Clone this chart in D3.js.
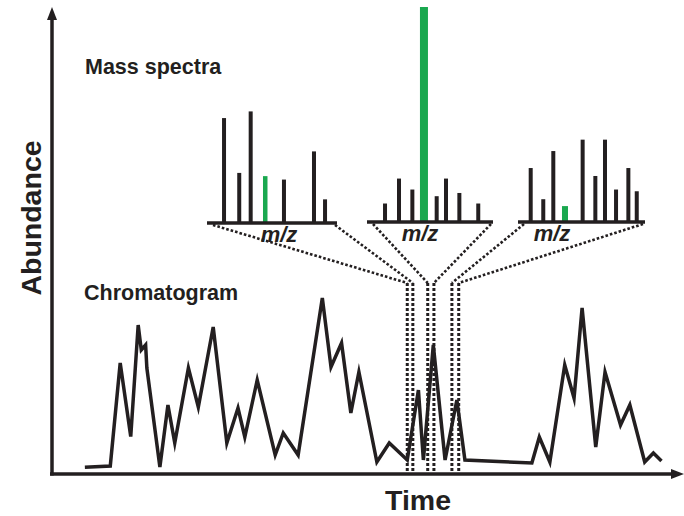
<!DOCTYPE html>
<html>
<head>
<meta charset="utf-8">
<script src="https://cdn.jsdelivr.net/npm/d3@7"></script>
<style>
body { margin: 0; background: #fff; }
text { font-family: "Liberation Sans", Arial, sans-serif; font-weight: bold; fill: #231f20; }
</style>
</head>
<body>
<svg id="chart" width="684" height="516"></svg>
<script>
// chromatogram (time 0-100, abundance 0-100)
const time = [5.3, 9.4, 11.0, 12.7, 13.9, 14.4, 15.1, 15.3, 17.4, 18.7, 19.8, 22.0, 23.6, 26.0, 28.2,
    30.0, 31.1, 33.1, 36.0, 37.3, 39.7, 43.6, 45.0, 46.7, 48.2, 49.5, 52.4, 54.4, 57.3, 59.1, 59.9,
    61.5, 63.4, 65.3, 66.6, 77.4, 78.6, 80.3, 82.7, 84.2, 85.5, 87.7, 89.2, 91.7, 93.2, 95.6, 97.0, 98.3];
const abundance = [3.4, 4, 55.5, 18.7, 74.5, 62, 64.5, 53, 3.5, 34.5, 15.5, 53, 33.5, 73.5, 15.5,
    33, 18.5, 47, 9.5, 20.5, 9.5, 88, 53.5, 65.5, 30.5, 51, 6, 15.5, 7, 42, 7,
    64.5, 7, 37, 7, 5.5, 18.5, 6, 54.5, 38, 83, 13.5, 51, 24.5, 34.5, 6, 10.5, 6.5];

// scans picked out of the chromatogram (start / end time)
const scanWindows = [[57.3, 58.2], [60.6, 61.6], [64.5, 65.6]];

// mass spectra (m/z 0-100, intensity 0-100), one per scan
const spectrumMz = [
    [13.1, 24.8, 33.6, 44.8, 59.2, 82.3, 90.8],
    [14.3, 25.4, 36.0, 45.2, 55.3, 62.7, 73.3, 88.3],
    [10.0, 19.9, 27.8, 37.0, 50.9, 60.9, 68.5, 77.2, 86.9, 93.5]
];
const spectrumIntensity = [
    [48.8, 23.3, 51.9, 21.8, 20.2, 33.3, 11.0],
    [8.6, 20.2, 15.1, 100, 12.0, 20.2, 13.5, 8.6],
    [25.1, 10.6, 33.0, 7.4, 38.3, 21.4, 38.3, 15.1, 25.1, 14.3]
];
const highlighted = [3, 3, 3];   // index of the ion shown in green

const ink = "#231f20";
const green = "#1aa84f";

const svg = d3.select("#chart");

const x = d3.scaleLinear().domain([0, 100]).range([52, 672]);
const y = d3.scaleLinear().domain([0, 100]).range([474, 274]);

// inset boxes for the spectra
const insets = [
    { x0: 207, x1: 337, base: 223, label: 279, gw: 4.5 },
    { x0: 367, x1: 493, base: 222, label: 420, gw: 8 },
    { x0: 518, x1: 645, base: 222, label: 552, gw: 6 }
];
const h = d3.scaleLinear().domain([0, 100]).range([0, 215]);

const winTop = 283, winBottom = 472;

// connectors from each spectrum down to its scan window
insets.forEach((b, i) => {
    const w = scanWindows[i];
    [[b.x0 + 6, w[0]], [b.x1 - 2, w[1]]].forEach(([sx, t]) => {
        svg.append("line")
            .attr("x1", sx).attr("y1", b.base + 2)
            .attr("x2", x(t)).attr("y2", winTop)
            .attr("stroke", ink).attr("stroke-width", 2.6)
            .attr("stroke-dasharray", "2.6,2");
    });
});

svg.selectAll(".win")
    .data(scanWindows.flat())
    .enter().append("line")
    .attr("class", "win")
    .attr("x1", d => x(d)).attr("x2", d => x(d))
    .attr("y1", winTop).attr("y2", winBottom)
    .attr("stroke", ink).attr("stroke-width", 3)
    .attr("stroke-dasharray", "3,2");

// chromatogram
const line = d3.line()
    .x(i => x(time[i]))
    .y(i => y(abundance[i]));

svg.append("path")
    .attr("d", line(d3.range(time.length)))
    .attr("fill", "none")
    .attr("stroke", ink)
    .attr("stroke-width", 3.5)
    .attr("stroke-linejoin", "miter")
    .attr("stroke-miterlimit", 6);

// spectra
insets.forEach((b, i) => {
    const mz = d3.scaleLinear().domain([0, 100]).range([b.x0, b.x1]);
    const g = svg.append("g");
    g.selectAll("rect")
        .data(spectrumMz[i])
        .enter().append("rect")
        .attr("x", (d, j) => mz(d) - (j === highlighted[i] ? b.gw : 4) / 2)
        .attr("width", (d, j) => j === highlighted[i] ? b.gw : 4)
        .attr("y", (d, j) => b.base - h(spectrumIntensity[i][j]))
        .attr("height", (d, j) => h(spectrumIntensity[i][j]))
        .attr("fill", (d, j) => j === highlighted[i] ? green : ink);
    g.append("line")
        .attr("x1", b.x0).attr("x2", b.x1)
        .attr("y1", b.base).attr("y2", b.base)
        .attr("stroke", ink).attr("stroke-width", 3.5);
    g.append("text")
        .attr("x", b.label).attr("y", b.base + 19)
        .attr("text-anchor", "middle")
        .style("font-size", "22px")
        .style("font-style", "italic")
        .text("m/z");
});

// axes with arrow heads
svg.append("line")
    .attr("x1", 52).attr("x2", 52).attr("y1", 475.5).attr("y2", 18)
    .attr("stroke", ink).attr("stroke-width", 3.5);
svg.append("path")
    .attr("d", "M52,7 L47,20 L57,20 Z").attr("fill", ink);
svg.append("line")
    .attr("x1", 50).attr("x2", 672).attr("y1", 474).attr("y2", 474)
    .attr("stroke", ink).attr("stroke-width", 3.5);
svg.append("path")
    .attr("d", "M684,474 L671,469 L671,479 Z").attr("fill", ink);

// labels
svg.append("text")
    .attr("transform", "translate(41,218) rotate(-90)")
    .attr("text-anchor", "middle")
    .style("font-size", "28.5px")
    .text("Abundance");
svg.append("text")
    .attr("x", 418).attr("y", 510)
    .attr("text-anchor", "middle")
    .style("font-size", "28.5px")
    .text("Time");
svg.append("text")
    .attr("x", 85).attr("y", 74)
    .style("font-size", "21.5px")
    .text("Mass spectra");
svg.append("text")
    .attr("x", 84).attr("y", 300)
    .style("font-size", "21.5px")
    .text("Chromatogram");
</script>
</body>
</html>
